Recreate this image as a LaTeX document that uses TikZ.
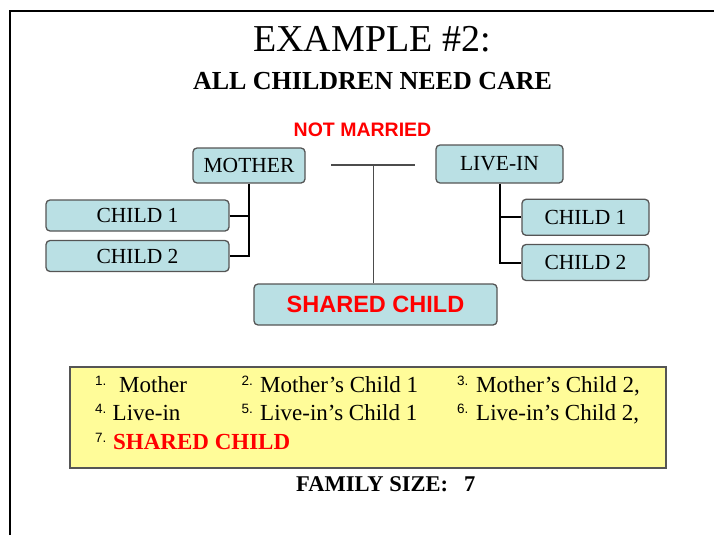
\documentclass[tikz,border=0pt]{standalone}
\usepackage{fontspec}
\setmainfont{Liberation Serif}
\newfontfamily\arialb{Liberation Sans}[BoldFont={* Bold}]
\definecolor{boxblue}{RGB}{186,224,228}
\definecolor{boxedge}{RGB}{85,85,85}
\definecolor{notered}{RGB}{255,0,0}
\definecolor{notebg}{RGB}{255,252,153}
\newcommand{\fs}[1]{\fontsize{#1}{#1}\selectfont}
\begin{document}
\begin{tikzpicture}[x=1pt,y=-1pt,
  person/.style={draw=boxedge, line width=1.3pt, fill=boxblue, rounded corners=4pt,
    inner sep=0pt, font=\fs{21.5}},
  famline/.style={line width=2pt, black},
  tieline/.style={line width=1.5pt, black!70},
  num/.style={anchor=base west, inner sep=0pt, font=\arialb\fs{13.5}},
  item/.style={anchor=base west, inner sep=0pt, font=\fs{23}}]
\useasboundingbox (0,0) rectangle (714,535);
% page frame
\draw[line width=1.5pt] (10,535) -- (10,11) -- (714,11);

% headings
\node[anchor=base, inner sep=0pt, font=\fs{38}] (title) at (372,52) {EXAMPLE \#2:};
\node[anchor=base, inner sep=0pt, font=\fs{26}\bfseries] (subtitle) at (372.5,89) {ALL CHILDREN NEED CARE};
\node[anchor=base, inner sep=0pt, font=\arialb\fs{19.5}\bfseries, text=notered] (nm) at (362.5,136) {NOT MARRIED};

% people
\node[person, minimum width=112pt, minimum height=35pt] (mother) at (249,165.5) {MOTHER};
\node[person, minimum width=127pt, minimum height=38pt] (livein) at (499.5,164) {LIVE-IN};
\node[person, minimum width=183pt, minimum height=31pt] (lc1) at (137.5,215.5) {CHILD 1};
\node[person, minimum width=183pt, minimum height=31pt] (lc2) at (137.5,256) {CHILD 2};
\node[person, minimum width=127pt, minimum height=36pt] (rc1) at (585.5,217.3) {CHILD 1};
\node[person, minimum width=127pt, minimum height=36pt] (rc2) at (585.5,262.5) {CHILD 2};
\node[person, minimum width=243pt, minimum height=41pt, font=\arialb\fs{23.5}\bfseries, text=notered]
  (shared) at (375.5,304.5) {SHARED CHILD};

% family connectors
\draw[famline] (mother.south) |- (lc2.east);
\draw[famline] (lc1.east) -- (lc1.east -| mother.south);
\draw[famline] (livein.south) |- (rc2.west);
\draw[famline] (rc1.west) -- (rc1.west -| livein.south);

% partnership line and shared child
\coordinate (tl) at (331,165);
\coordinate (tr) at (415,165);
\coordinate (tm) at (373.5,165);
\draw[tieline] (tl) -- (tr);
\draw[tieline] (tm) -- (tm |- shared.north);

% family list
\node[draw=boxedge, line width=1.5pt, fill=notebg, inner sep=0pt, anchor=north west,
  minimum width=596pt, minimum height=101pt] (list) at (69,366) {};
\node[num] (n1) at (95,385.5) {1.};
\node[item] (i1) at (119,392) {Mother};
\node[num] (n2) at (241.5,385.5) {2.};
\node[item] (i2) at (260,392) {Mother’s Child 1};
\node[num] (n3) at (457,385.5) {3.};
\node[item] (i3) at (476,392) {Mother’s Child 2,};
\node[num] (n4) at (95,413.5) {4.};
\node[item] (i4) at (112.5,420) {Live-in};
\node[num] (n5) at (241.5,413.5) {5.};
\node[item] (i5) at (260,420) {Live-in’s Child 1};
\node[num] (n6) at (457,413.5) {6.};
\node[item] (i6) at (476,420) {Live-in’s Child 2,};
\node[num] (n7) at (95,442.5) {7.};
\node[item, font=\fs{23}\bfseries, text=notered] (i7) at (113,449) {SHARED CHILD};

\node[anchor=base west, inner sep=0pt, font=\fs{22.5}\bfseries] (size) at (296,491.5) {FAMILY SIZE:\hspace{16pt}7};
\end{tikzpicture}
\end{document}
